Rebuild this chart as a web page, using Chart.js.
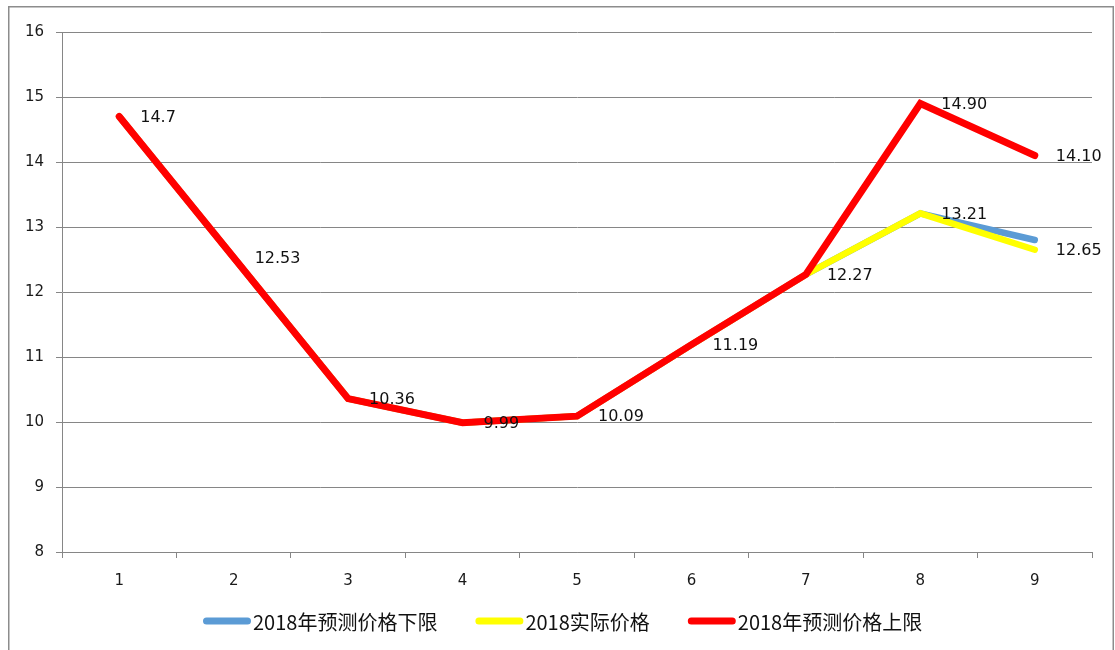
<!DOCTYPE html>
<html>
<head>
<meta charset="utf-8">
<script src="https://cdn.jsdelivr.net/npm/chart.js@4/dist/chart.umd.min.js"></script>
<style>
html, body { margin: 0; padding: 0; background: #ffffff; }
#wrap { position: relative; width: 1115px; height: 650px; }
</style>
</head>
<body>
<div id="wrap"><canvas id="c" width="1115" height="650"></canvas></div>
<script>
// ---- data ----
const categories = ['1', '2', '3', '4', '5', '6', '7', '8', '9'];
const lowerLimit = [14.7, 12.53, 10.36, 9.99, 10.09, 11.19, 12.27, 13.21, 12.8];
const actualPrice = [14.7, 12.53, 10.36, 9.99, 10.09, 11.19, 12.27, 13.21, 12.65];
const upperLimit = [14.7, 12.53, 10.36, 9.99, 10.09, 11.19, 12.27, 14.90, 14.10];
const upperLabels = ['14.7', '12.53', '10.36', '9.99', '10.09', '11.19', '12.27', '14.90', '14.10'];
const actualLabels = [null, null, null, null, null, null, null, '13.21', '12.65'];
const seriesNames = ['2018年预测价格下限', '2018实际价格', '2018年预测价格上限'];
const yMin = 8, yMax = 16, yStep = 1;

// ---- plugins ----
const frame = {
  id: 'frame',
  beforeDraw(chart) {
    const ctx = chart.ctx;
    ctx.save();
    ctx.fillStyle = '#ffffff';
    ctx.fillRect(0, 0, chart.width, chart.height);
    ctx.strokeStyle = '#8c8c8c';
    ctx.lineWidth = 1.5;
    ctx.strokeRect(8.75, 6.75, 1104.5, 700);
    ctx.restore();
  }
};

const pointLabels = {
  id: 'pointLabels',
  afterDatasetsDraw(chart) {
    const ctx = chart.ctx;
    ctx.save();
    ctx.font = '16px "DejaVu Sans"';
    ctx.fillStyle = '#111111';
    ctx.textAlign = 'left';
    ctx.textBaseline = 'middle';
    chart.data.datasets.forEach((ds, di) => {
      if (!ds.pointLabels) return;
      const meta = chart.getDatasetMeta(di);
      ds.pointLabels.forEach((txt, i) => {
        if (txt == null) return;
        const p = meta.data[i];
        ctx.fillText(txt, p.x + 21, p.y + 1);
      });
    });
    ctx.restore();
  }
};

const lineLegend = {
  id: 'lineLegend',
  afterDraw(chart) {
    const ctx = chart.ctx;
    ctx.save();
    ctx.font = '20px "Noto Sans CJK SC"';
    ctx.textBaseline = 'middle';
    ctx.textAlign = 'left';
    let x = 203;
    const y = 621;
    chart.data.datasets.forEach(ds => {
      ctx.strokeStyle = ds.borderColor;
      ctx.lineWidth = 7;
      ctx.lineCap = 'round';
      ctx.beginPath();
      ctx.moveTo(x + 3.5, y);
      ctx.lineTo(x + 48 - 3.5, y);
      ctx.stroke();
      ctx.fillStyle = '#111111';
      ctx.fillText(ds.label, x + 50, y + 1);
      x += 50 + ctx.measureText(ds.label).width + 38;
    });
    ctx.restore();
  }
};

const tickFont = { family: 'DejaVu Sans', size: 15 };

new Chart(document.getElementById('c'), {
  type: 'line',
  data: {
    labels: categories,
    datasets: [
      {
        label: seriesNames[0], data: lowerLimit,
        borderColor: '#5B9BD5', backgroundColor: '#5B9BD5',
        borderWidth: 6.5, order: 3
      },
      {
        label: seriesNames[1], data: actualPrice,
        borderColor: '#FFFF00', backgroundColor: '#FFFF00',
        borderWidth: 6.5, order: 2, pointLabels: actualLabels
      },
      {
        label: seriesNames[2], data: upperLimit,
        borderColor: '#FF0000', backgroundColor: '#FF0000',
        borderWidth: 7, order: 1, pointLabels: upperLabels
      }
    ]
  },
  options: {
    responsive: false,
    animation: false,
    devicePixelRatio: 1,
    layout: { padding: { top: 32, right: 23, bottom: 58, left: 0 } },
    elements: {
      line: { tension: 0, borderCapStyle: 'round', borderJoinStyle: 'miter', fill: false },
      point: { radius: 0, hoverRadius: 0 }
    },
    plugins: {
      legend: { display: false },
      tooltip: { enabled: false }
    },
    scales: {
      x: {
        offset: true,
        grid: { offset: true, drawOnChartArea: false, drawTicks: true, tickLength: 6, color: '#868686' },
        border: { color: '#868686' },
        ticks: { font: tickFont, color: '#1a1a1a', padding: 14, maxRotation: 0 },
        afterFit(s) { s.height = 40; }
      },
      y: {
        min: yMin, max: yMax,
        grid: { color: '#868686', tickLength: 6 },
        border: { color: '#868686' },
        ticks: { stepSize: yStep, font: tickFont, color: '#1a1a1a', padding: 12 },
        afterFit(s) { s.width = 62; }
      }
    }
  },
  plugins: [frame, pointLabels, lineLegend]
});
</script>
</body>
</html>
